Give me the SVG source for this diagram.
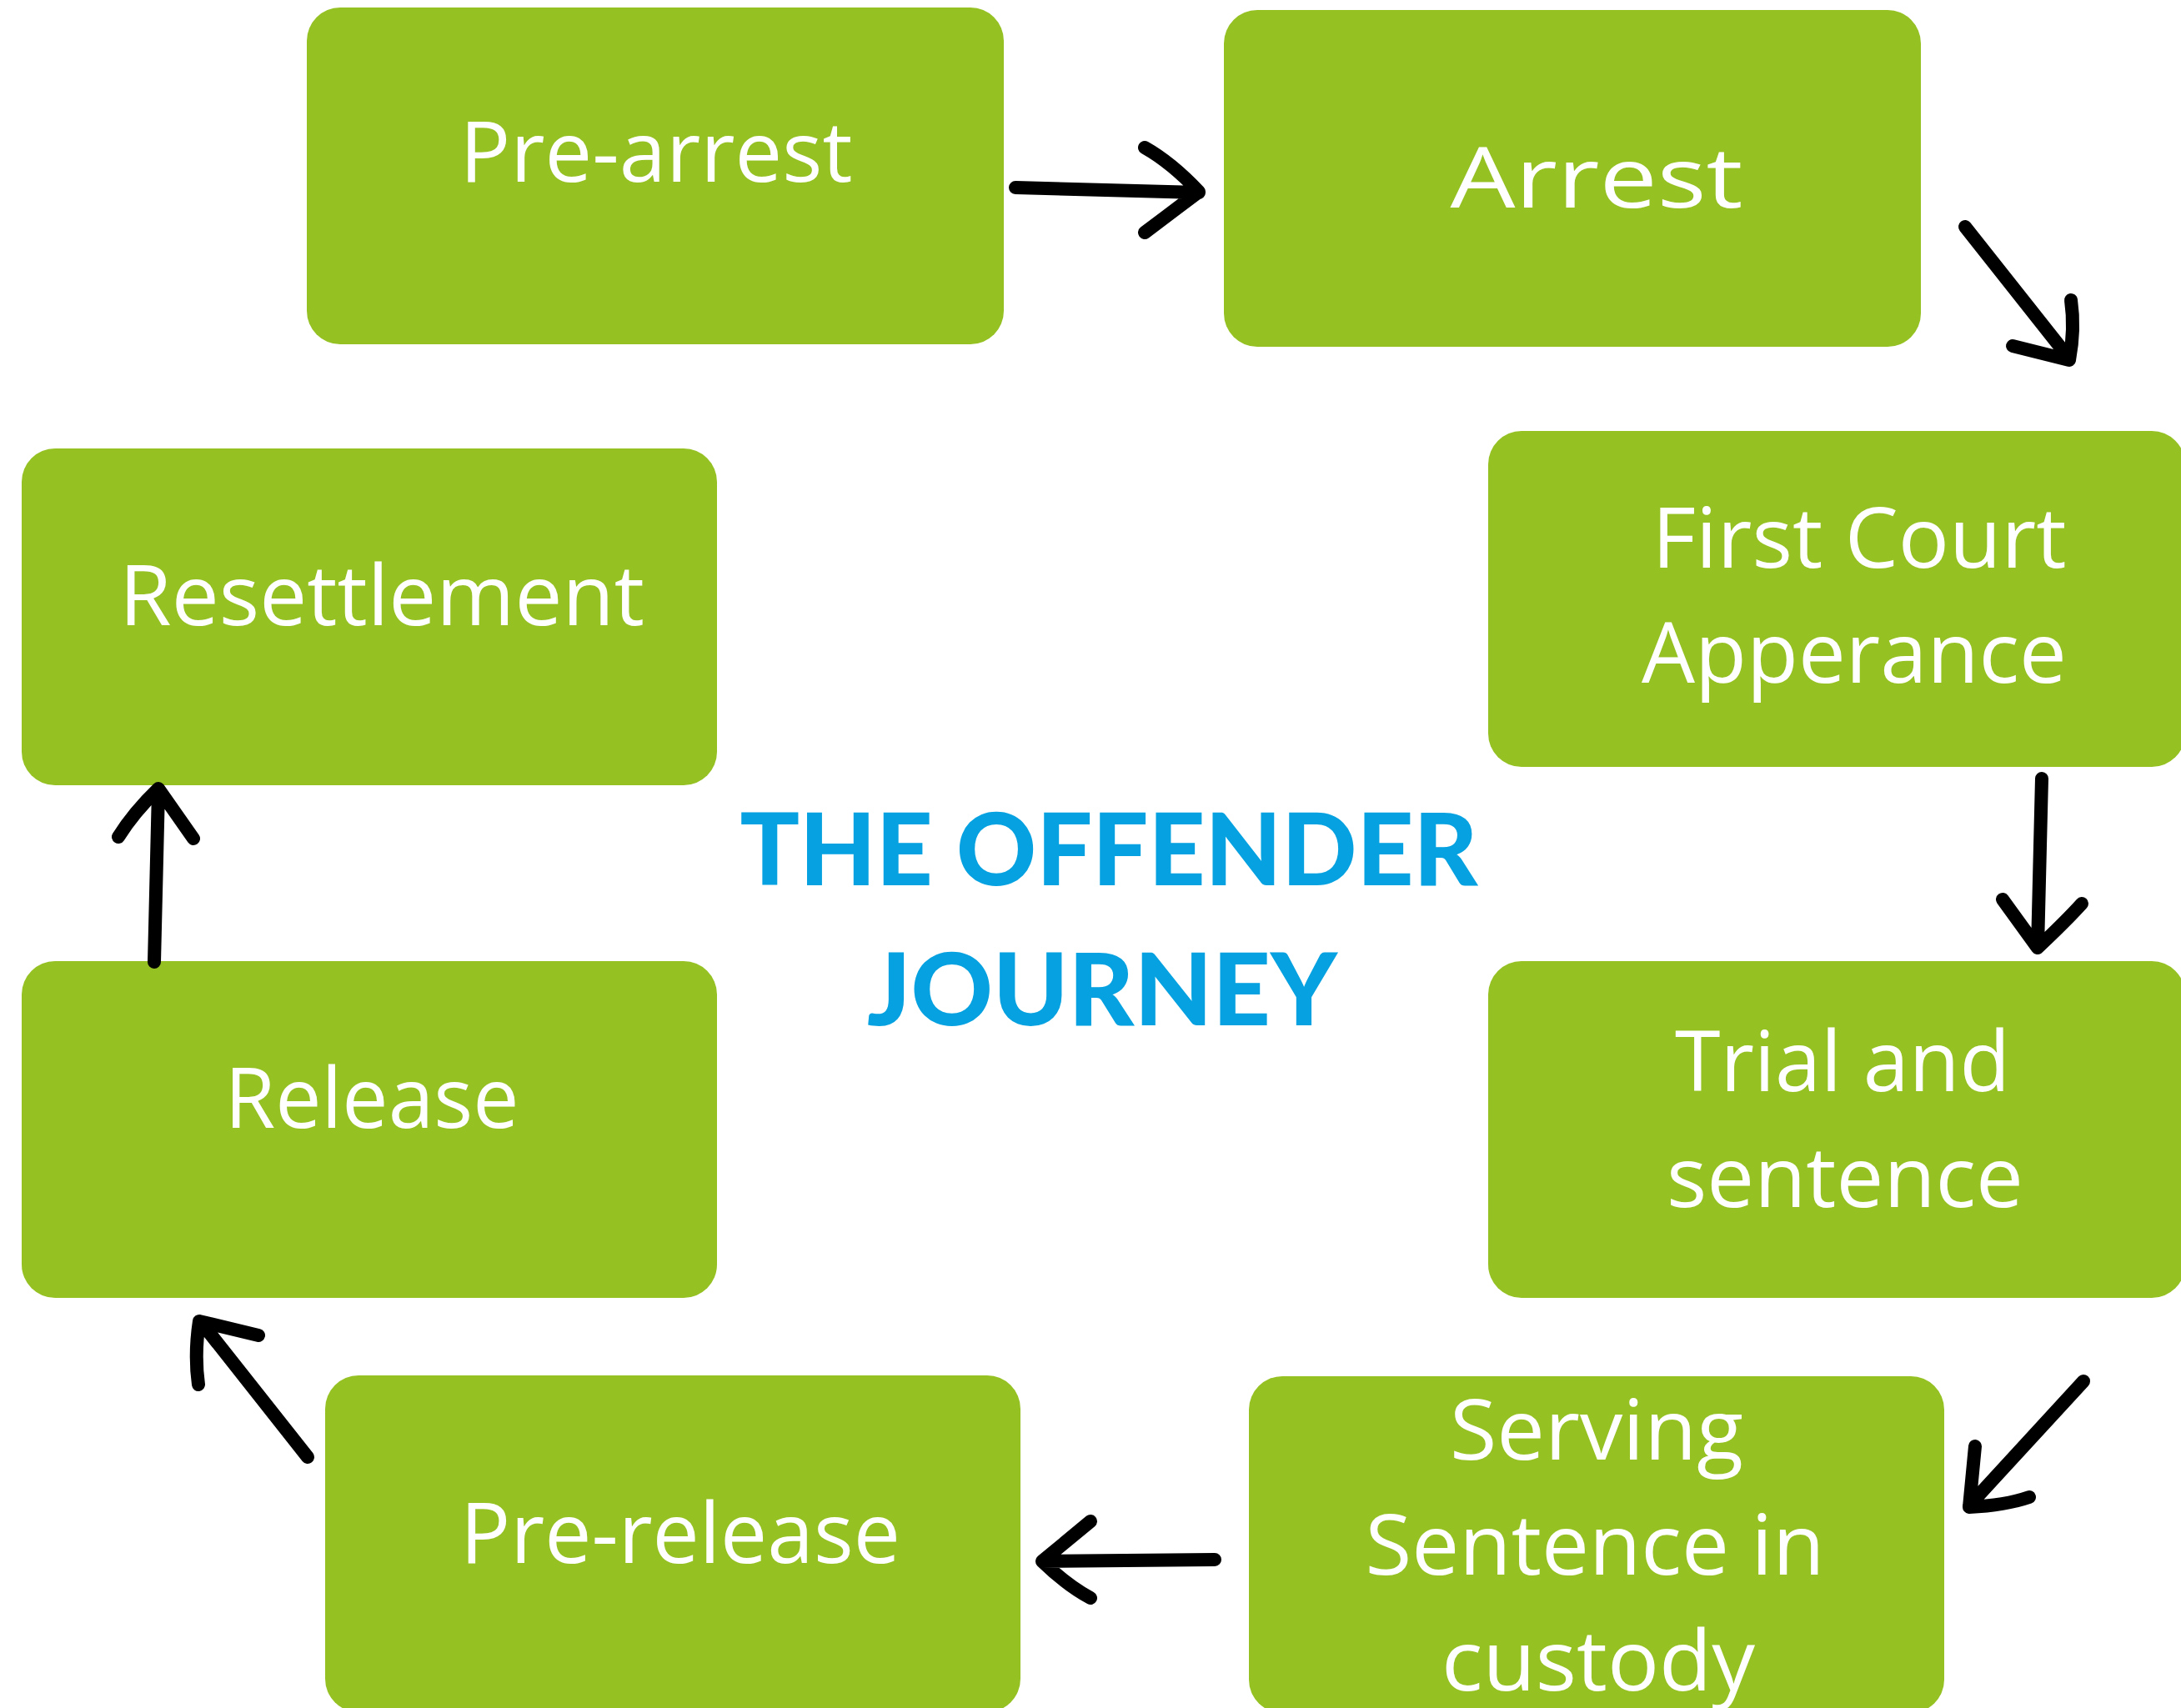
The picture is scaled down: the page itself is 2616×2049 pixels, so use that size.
<svg xmlns="http://www.w3.org/2000/svg" width="2616" height="2049" viewBox="0 0 2616 2049">
<style>
.box{fill:#95C122}
.lbl{font-family:"Open Sans","Noto Sans","Liberation Sans",sans-serif;font-weight:400;font-size:100px;fill:#FFFFFF;text-anchor:middle}
.title{font-family:Lato,"Liberation Sans",sans-serif;font-weight:900;font-size:120px;fill:#05A1E0;text-anchor:middle}
.arr{fill:none;stroke:#000000;stroke-width:16;stroke-linecap:round;stroke-linejoin:round}
</style>
<rect width="2616" height="2049" fill="#FFFFFF"/>
<g id="pre-arrest"><rect class="box" x="368" y="9" width="836" height="404" rx="40"/><text class="lbl" x="787" y="218" textLength="471" lengthAdjust="spacingAndGlyphs">Pre-arrest</text></g>
<g id="arrest"><rect class="box" x="1468" y="12" width="836" height="404" rx="40"/><text class="lbl" x="1915" y="249" font-size="122" textLength="351" lengthAdjust="spacingAndGlyphs">Arrest</text></g>
<g id="first-court"><rect class="box" x="1785" y="517" width="836" height="403" rx="40"/><text class="lbl" x="2230" y="681" textLength="497" lengthAdjust="spacingAndGlyphs">First Court</text><text class="lbl" x="2224" y="819" textLength="510" lengthAdjust="spacingAndGlyphs">Apperance</text></g>
<g id="resettlement"><rect class="box" x="26" y="538" width="834" height="404" rx="40"/><text class="lbl" x="458" y="750" textLength="630" lengthAdjust="spacingAndGlyphs">Resettlement</text></g>
<g id="release"><rect class="box" x="26" y="1153" width="834" height="404" rx="40"/><text class="lbl" x="446" y="1353" textLength="353" lengthAdjust="spacingAndGlyphs">Release</text></g>
<g id="trial"><rect class="box" x="1785" y="1153" width="836" height="404" rx="40"/><text class="lbl" x="2210" y="1309" textLength="402" lengthAdjust="spacingAndGlyphs">Trial and</text><text class="lbl" x="2213" y="1448" textLength="428" lengthAdjust="spacingAndGlyphs">sentence</text></g>
<g id="pre-release"><rect class="box" x="390" y="1650" width="834" height="404" rx="40"/><text class="lbl" x="816" y="1875" textLength="528" lengthAdjust="spacingAndGlyphs">Pre-release</text></g>
<g id="serving"><rect class="box" x="1498" y="1651" width="834" height="404" rx="40"/><text class="lbl" x="1915" y="1751" textLength="352" lengthAdjust="spacingAndGlyphs">Serving</text><text class="lbl" x="1913" y="1889" textLength="551" lengthAdjust="spacingAndGlyphs">Sentence in</text><text class="lbl" x="1917" y="2028" textLength="376" lengthAdjust="spacingAndGlyphs">custody</text></g>
<g id="title"><text class="title" x="1330" y="1062" textLength="885" lengthAdjust="spacingAndGlyphs">THE OFFENDER</text><text class="title" x="1322" y="1230" textLength="564" lengthAdjust="spacingAndGlyphs">JOURNEY</text></g>
<g id="connectors">
<path class="arr" d="M1218,225 L1438,231 M1373,177 Q1405,195 1438,230 L1373,279"/>
<path class="arr" d="M2357,272 L2482,430 M2484,360 Q2489,395 2482,432 L2414,415"/>
<path class="arr" d="M2449,934 L2444,1137 M2402,1079 L2444,1137 Q2478,1105 2497,1084"/>
<path class="arr" d="M2499,1657 L2362,1806 M2369,1735 L2362,1808 Q2405,1806 2434,1796"/>
<path class="arr" d="M1457,1871 L1250,1873 M1308,1825 L1250,1873 Q1280,1902 1308,1917"/>
<path class="arr" d="M369,1748 L241,1586 M238,1661 Q233,1625 239,1585 L310,1602"/>
<path class="arr" d="M185,1154 L190,948 M142,1004 Q160,975 190,946 L232,1006"/>
</g>
</svg>
